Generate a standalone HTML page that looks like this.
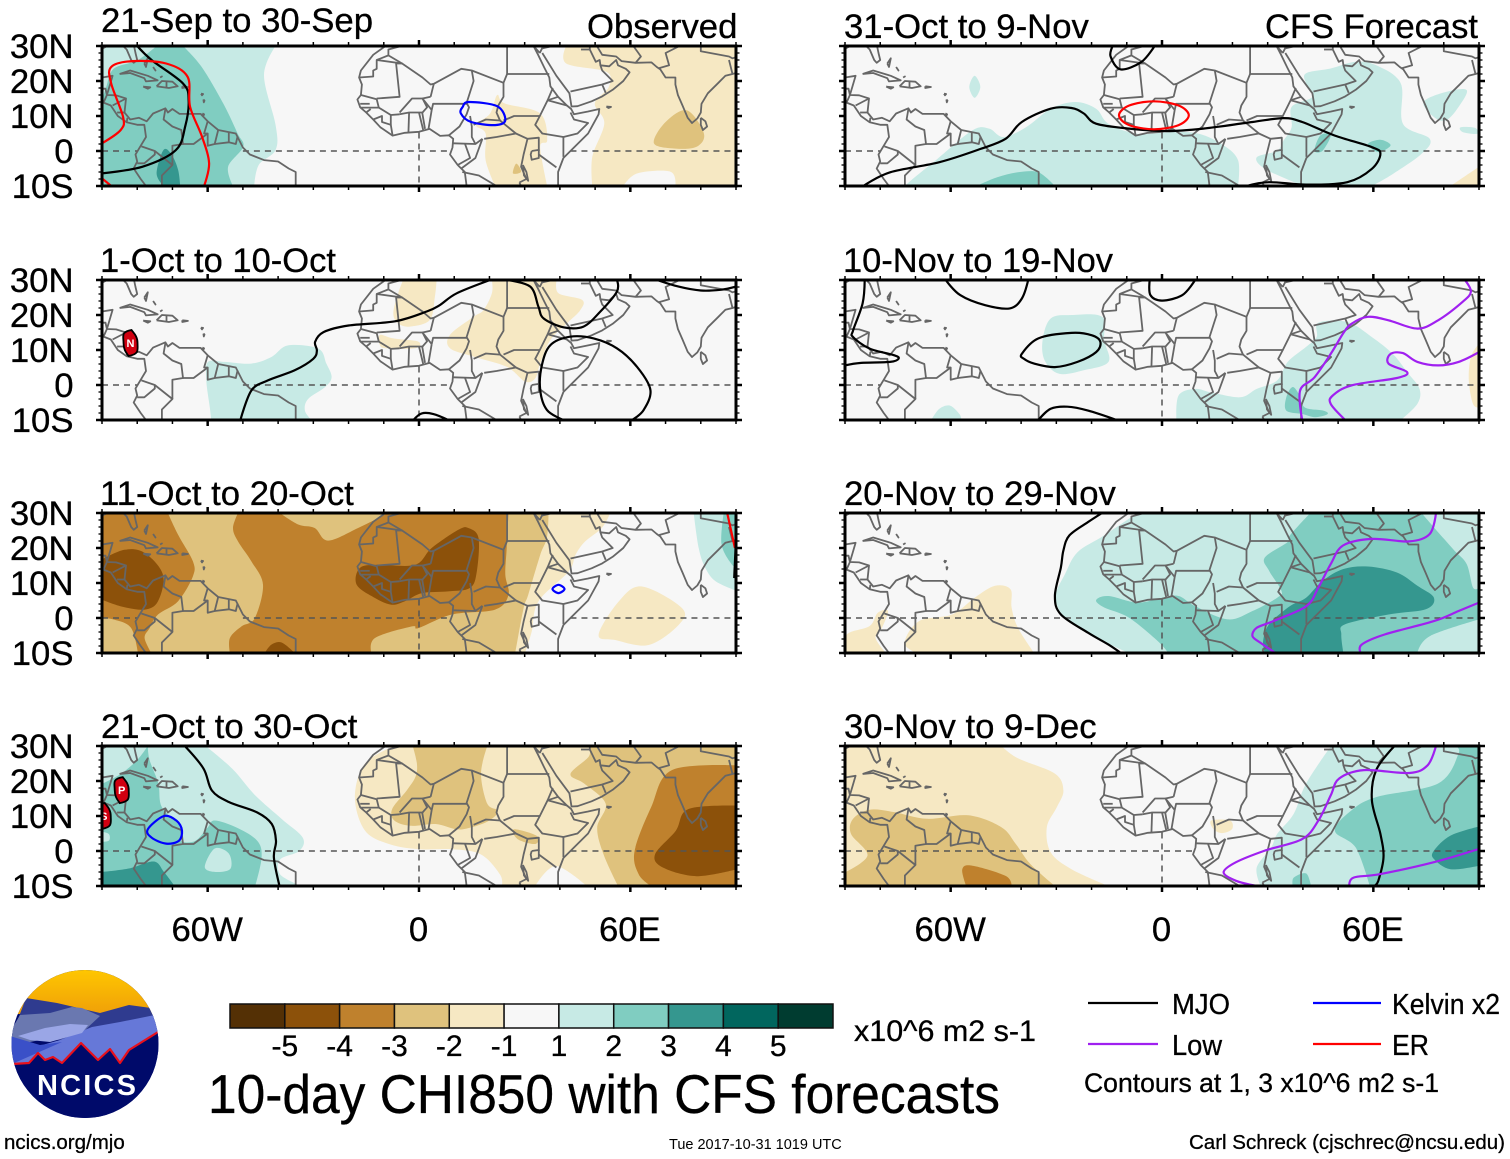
<!DOCTYPE html>
<html lang="en">
<head>
<meta charset="utf-8">
<title>10-day CHI850 with CFS forecasts</title>
<style>
html,body{margin:0;padding:0;background:#fff;width:1510px;height:1159px;overflow:hidden}
svg{display:block}
text{font-family:"Liberation Sans",sans-serif;fill:#000;stroke:#000;stroke-width:.3}
</style>
</head>
<body>
<svg id="chart" xmlns="http://www.w3.org/2000/svg" width="1510" height="1159" viewBox="0 0 1510 1159">
<defs>
<linearGradient id="sky" x1="0" y1="0" x2="0" y2="1"><stop offset="0" stop-color="#ffc800"/><stop offset="1" stop-color="#f0a008"/></linearGradient>
<clipPath id="logo-clip"><ellipse cx="85" cy="1044" rx="73.5" ry="74"/></clipPath>
</defs>
<rect width="1510" height="1159" fill="#fff"/>
<g id="panels"></g>

<text x="101" y="32" font-size="34.7" textLength="272" lengthAdjust="spacingAndGlyphs">21-Sep to 30-Sep</text>
<text x="587" y="38" font-size="34.7">Observed</text>
<text x="100" y="272" font-size="34.7" textLength="236" lengthAdjust="spacingAndGlyphs">1-Oct to 10-Oct</text>
<text x="100" y="505" font-size="34.7">11-Oct to 20-Oct</text>
<text x="101" y="738" font-size="34.7">21-Oct to 30-Oct</text>
<text x="844" y="38" font-size="34.7">31-Oct to 9-Nov</text>
<text x="1265" y="38" font-size="34.7" textLength="213" lengthAdjust="spacingAndGlyphs">CFS Forecast</text>
<text x="843" y="272" font-size="34.7" textLength="270" lengthAdjust="spacingAndGlyphs">10-Nov to 19-Nov</text>
<text x="844" y="505" font-size="34.7">20-Nov to 29-Nov</text>
<text x="844" y="738" font-size="34.7">30-Nov to 9-Dec</text>

<g id="colorbar"></g>
<text x="854" y="1041" font-size="30" textLength="182" lengthAdjust="spacingAndGlyphs">x10^6 m2 s-1</text>
<text x="208" y="1113" font-size="55" textLength="792" lengthAdjust="spacingAndGlyphs">10-day CHI850 with CFS forecasts</text>

<g>
<line x1="1088" y1="1003" x2="1158" y2="1003" stroke="#000" stroke-width="2.2"/>
<text x="1172" y="1014" font-size="29" textLength="58" lengthAdjust="spacingAndGlyphs">MJO</text>
<line x1="1313" y1="1003" x2="1381" y2="1003" stroke="#0000ff" stroke-width="2.2"/>
<text x="1392" y="1014" font-size="29" textLength="108" lengthAdjust="spacingAndGlyphs">Kelvin x2</text>
<line x1="1088" y1="1044" x2="1158" y2="1044" stroke="#a020f0" stroke-width="2.2"/>
<text x="1172" y="1055" font-size="29" textLength="50" lengthAdjust="spacingAndGlyphs">Low</text>
<line x1="1313" y1="1044" x2="1381" y2="1044" stroke="#ff0000" stroke-width="2.2"/>
<text x="1392" y="1055" font-size="29" textLength="37" lengthAdjust="spacingAndGlyphs">ER</text>
<text x="1084" y="1092" font-size="27" textLength="355" lengthAdjust="spacingAndGlyphs">Contours at 1, 3 x10^6 m2 s-1</text>
</g>

<text x="4" y="1149" font-size="20.5">ncics.org/mjo</text>
<text x="669" y="1149" font-size="14.5" style="stroke:none">Tue 2017-10-31 1019 UTC</text>
<text x="1189" y="1149" font-size="20.5" textLength="316" lengthAdjust="spacingAndGlyphs">Carl Schreck (cjschrec@ncsu.edu)</text>

<g clip-path="url(#logo-clip)">
<rect x="10" y="968" width="150" height="152" fill="#000a6a"/>
<rect x="10" y="968" width="150" height="46" fill="url(#sky)"/>
<polygon points="10,1040 26,998 57,1003 100,1013 129,1005 151,1008 160,1040" fill="#2f3b8f"/>
<polygon points="10,1032 20,1015 50,1013 72,1007 82,1008 100,1016 85,1030 40,1040 10,1046" fill="#6a78b0"/>
<polygon points="10,1068 25,1050 60,1040 92,1027 120,1022 160,1014 160,1072 10,1072" fill="#6678d8"/>
<polygon points="18,1036 45,1028 70,1024 88,1025 82,1033 50,1042 30,1040" fill="#9aa6e6"/>
<polygon points="10,1036 40,1045 62,1042 12,1064" fill="#3a50c8"/>
<polygon points="10,1064 29,1063 38,1053 45,1060 53,1057 62,1063 81,1043 98,1060 110,1049 120,1063 129,1050 160,1031 160,1120 10,1120" fill="#000a6a"/>
<polyline points="12,1064 29,1063 38,1053 45,1060 53,1057 62,1063 81,1043 98,1060 110,1049 120,1063 129,1050 158,1032" fill="none" stroke="#e8101c" stroke-width="2.2" stroke-linejoin="round"/>
</g>
<text x="37" y="1095" font-size="29" font-weight="bold" style="fill:#fff;stroke:none" textLength="99" lengthAdjust="spacing">NCICS</text>
</svg>

<script>
// ---- Axis tick data ----
const yTickLats = [30, 20, 10, 0, -10];
const yTickLabels = ['30N', '20N', '10N', '0', '10S'];
const xTickLons = [-60, 0, 60];
const xTickLabels = ['60W', '0', '60E'];

// ---- Colour bar data ----
const barLevels = [-5.5, -4.5, -3.5, -2.5, -1.5, 0, 1.5, 2.5, 3.5, 4.5, 5.5];
const barLabels = ['-5', '-4', '-3', '-2', '-1', '1', '2', '3', '4', '5'];

// ---- Simplified geography (lon, lat) ----
const mapLines = [
 [[-90,29.2],[-88,30.3],[-84,30],[-83,29],[-81.7,26],[-81,25.2],[-80,26],[-80.5,28],[-81,30.5]],
 [[-90,21],[-87,21.5],[-88,18],[-88.6,16],[-86,15.9],[-83.2,15],[-83.6,11],[-82,9],[-79.5,9.5],[-77.3,8.5],[-75.5,10.7],[-72,12.2],[-71.3,11],[-70,12],[-68,10.6],[-62,10.6],[-60,8.5],[-57,6],[-52,5],[-50,1],[-48,-1],[-44,-2.6],[-40,-3],[-37,-5],[-35,-6],[-35,-10]],
 [[-90,14],[-87.5,13],[-85.5,10],[-83,8.2],[-80,7.5],[-78,7.5],[-77.5,4],[-79,1.5],[-80.5,-1],[-80,-3],[-81,-5],[-79,-8],[-77.5,-10]],
 [[-72,12],[-72.5,9],[-70,7],[-67.5,6],[-67,2],[-70,1.5],[-70,-4]],
 [[-60,8.5],[-61,5],[-60,5],[-60,1.5],[-58,2],[-57,6]],
 [[-67,2],[-64,2],[-60,5]],[[-54,5.5],[-54,2.5],[-58,2]],[[-54,2.5],[-52,2],[-51.5,4.2]],
 [[-78.8,1.3],[-75,0],[-70,-4],[-73,-7],[-73,-10]],[[-80,-3.5],[-78,-3.5],[-75,-1],[-75,0]],
 [[-90,17.8],[-89,17.8],[-88.6,16]],[[-89.5,14],[-88.6,16]],[[-83.2,15],[-87,13]],[[-83.6,11],[-85.7,11]],[[-83,8.2],[-82.8,9.5]],
 [[-85,22],[-82,23],[-77,21.5],[-74.2,20.2],[-77.5,19.9],[-78,20.8],[-82,22.3],[-85,22]],
 [[-74.5,18.5],[-73,20],[-70,19.8],[-68.5,18.5],[-71,18],[-74.5,18.5]],[[-71.7,18],[-71.7,19.8]],
 [[-78.3,18.4],[-76.3,18.2],[-77,17.8],[-78.3,18.4]],[[-67.2,18.5],[-65.6,18.3],[-67.2,18],[-67.2,18.5]],
 [[-78,25],[-77,26.5],[-77.5,24],[-78,25]],[[-75.5,24],[-74.8,23],[-75.5,24]],[[-73.5,21],[-73,21.3],[-73.5,21]],
 [[-61.9,16.4],[-61.3,16.3],[-61.6,15.9],[-61.9,16.4]],[[-61.2,14.7],[-60.9,14.4],[-61.1,13.9],[-61.2,14.7]],[[-61.5,10.7],[-61,10.5],[-61.2,10.1],[-61.5,10.7]],
 [[53.2,12.7],[54.5,12.6],[53.8,12.3],[53.2,12.7]],
 [[-9.5,30],[-13,27.5],[-16.5,23],[-17,21],[-16.2,19],[-16.5,16],[-17.5,14.7],[-16.7,12.5],[-15,11],[-13,9],[-11,6.8],[-7.5,4.4],[-4,5.2],[0,5.5],[3,6.3],[6,4.3],[8.5,4.5],[9.7,3.5],[9.5,1],[8.8,-1],[11,-4],[13,-6],[13.5,-10]],
 [[39.5,-10],[39.5,-6],[41,-2],[45,2],[48,5],[51,10.5],[51.2,12],[48,11.3],[44,10.5],[43.2,12],[42,13],[39.5,15.5],[37.3,18.5],[37,21],[35.5,24],[33.8,27.5],[32.5,30]],
 [[34.3,28],[35,29.5]],[[34.3,28],[33,29.5]],
 [[35,28],[39,21.5],[42.7,16.5],[43.3,12.7],[45,12.8],[49,14.2],[52,15.6],[55,17.5],[58,20],[59.8,22.5],[58.7,23.5],[56.5,24.5],[56,26],[54,24.2],[51.5,24.5],[51.3,26],[50.2,25.5],[48.5,29],[48.5,30]],
 [[48.5,30],[50.5,30],[52,27.5],[56,27],[57.5,25.7],[61.5,25.2],[66,25.3],[67.5,24],[68.5,23.3],[70,21],[72,21],[72.8,21],[72.8,19],[73.5,16],[74.8,13],[76.3,9.5],[77.5,8],[79,9.3],[80,11],[80.2,13.5],[82,16.5],[85,19.5],[87,21.5],[89,22],[90,22.3]],
 [[80,9.5],[81.3,8.5],[81.8,7],[80.6,6],[80,7.5],[80,9.5]],
 [[32,0],[34,0.3],[34,-2],[32,-2.5],[31.7,-1],[32,0]],[[29.5,-4],[29.8,-7],[31,-8.5],[30.5,-6],[29.5,-4]],[[28.5,-9],[29,-10]],
 [[-17,21],[-13,21.3],[-13,23],[-12,23.5],[-12,26],[-8.7,27.3],[-8.7,29],[-5,30]],
 [[-12,26],[-4.8,25],[-6.5,25],[-5.5,15.5],[-12,15]],[[-8.7,27.3],[-4.8,25],[1,21],[3.3,19],[4.2,19.2],[12,23.5],[15,23],[24,19.5]],
 [[25,30],[25,22],[37,22]],[[25,22],[24,19.5],[24,15.5],[22.5,13],[22,11],[23,8.7]],
 [[15,23],[15.5,20],[13.5,13.7],[14.2,12.5],[13.5,10.5],[11.5,7],[8.5,4.5]],[[3.6,11.7],[4,13.5],[13.5,13.5]],[[3.3,15.5],[4.2,19.2]],[[3.3,15.5],[1,15],[3.6,11.7]],
 [[-5.5,10.5],[-2.8,11],[1,11],[2.3,12.5],[1,15],[-2,15],[-5.5,11]],
 [[-16.5,16],[-12,14.8],[-11.4,12.4],[-16.7,12.4]],[[-16.7,13.5],[-14,13.5]],[[-13.7,12],[-15,11]],[[-11.4,12.4],[-8,10.3],[-5.5,10.5]],
 [[-13,9],[-10.5,10],[-10.5,8.3],[-8,7.5],[-7.5,4.4]],[[-8,7.5],[-8,10.3]],[[-3,5],[-2.8,11]],[[1.2,6],[0,11]],[[2.7,6.3],[3.6,11.7]],[[1.7,6.3],[0.9,11]],
 [[14.5,10],[15,7],[15,4],[16,2]],[[15.5,7.5],[19,9],[23,8.7],[27.5,5]],[[18.5,3.5],[22,4],[27.5,5],[30.8,3.5],[29.7,-1],[29,-4.5],[30.5,-8],[28.5,-9]],
 [[9.8,2.2],[16,2],[18,3.5]],[[13,2.2],[14.5,-2],[11,-4]],[[18,3.5],[16,-2],[12,-5]],[[12.3,-6],[17,-7],[22,-10]],
 [[24,8.7],[27,10],[33,10],[34.3,10],[33,7.5],[35,5],[41,4],[45,5],[48,8],[44,9],[43,11]],[[30.8,3.5],[34,3.8],[34,0]],[[41,4],[41,-1.7]],[[34,-1],[39,-4.7]],
 [[34.3,10],[36.5,14.5],[39.5,15.5]],[[36.5,14.5],[38,18]],[[36.5,14.5],[42,13]],
 [[43,17],[52,19],[55,20],[52,23],[51.5,24.5]],[[52,19],[53,16.6]],[[35,29.3],[38,30]],[[46,29],[48.5,29]],
 [[61.5,25.2],[63,27],[61,29.8]],[[68.2,23.7],[71,24.5],[70,28],[74,30]],[[61,30],[66.5,30]],[[80,30],[80,28.5],[88,27],[89,26.5],[90,26.8]],[[88,26],[89,22]]
];
const equatorSegmentsMasked = [[-90,-79.8],[-50,9.3],[43,90]];
const equatorSegmentsFull = [[-90,9.3],[43,90]];
const meridianSpan = [5.3, -10];

// ---- Panel 1: 21-Sep to 30-Sep ----
const fills1 = [
 [1,[[-90,30],[-40.7,30],[-44,21.6],[-40.7,7.4],[-40.7,0.3],[-45.5,-4],[-46.8,-10],[-90,-10]]],
 [2,[[-74.5,30],[-67,30],[-61.7,24],[-55.6,13.6],[-51.5,5],[-49.9,1.2],[-54.2,-4.5],[-52.8,-10],[-90,-10],[-90,14.5],[-88.8,18.3],[-86.7,23.5],[-80,25.9]]],
 [3,[[-72.5,0.3],[-74.5,-6.4],[-72.5,-10],[-67.8,-10],[-68.4,-5.4],[-70.2,-1.1]]],
 [-1,[[41.8,30],[41.8,25],[53.2,22.6],[53.9,18.3],[49.9,13.6],[52.6,7.9],[49.2,-1.6],[49.2,-10],[58,-10],[62,-6.4],[71.4,-5.9],[72.8,-10],[90,-10],[90,30]]],
 [-2,[[66.7,2.2],[70,8.3],[76.1,11.6],[80.9,5],[78.8,1.2],[72.8,0.7]]],
 [-1,[[22.2,16],[24.3,13.6],[34.4,10.7],[36.4,3.1],[34.4,1.2],[36.4,-10],[21.6,-10],[18.9,-2.6],[18.9,5],[16.2,7.4],[20.2,10.7]]],
 [-2,[[27.6,-3.6],[29,-5.9],[26.7,-6.4]]]
];
const lines1 = [
 ['mjo',0,[[-80,30],[-75.8,25.9],[-67,19.3],[-65.4,14.5],[-66.4,6.9],[-69.1,0.2],[-78.6,-4.5],[-90,-6.4]]],
 ['er',0,[[-90,2.2],[-84.7,6],[-84,9.7],[-87.4,19.3],[-87.4,24],[-81.3,25.7],[-71.8,25],[-65.7,21.2],[-65,12.6],[-61.6,4.1],[-59.6,-3.5],[-61,-10]]],
 ['er',0,[[-90,-7.8],[-87.4,-10]]],
 ['kelvin',1,[[14.2,14],[22.2,12.8],[24.5,8.8],[21.6,7.4],[14.8,8.3],[11.9,10.7],[12.4,12.6]]]
];
const storms1 = [];

// ---- Panel 2: 1-Oct to 10-Oct ----
const fills2 = [
 [1,[[-59.9,6.6],[-55.2,6.6],[-47.6,6.1],[-41.9,8],[-37.2,11.3],[-28.6,10.4],[-26.3,6.1],[-24.8,2.2],[-26.7,-0.6],[-31.5,-4],[-32.4,-7.3],[-30.5,-10],[-59,-10],[-59.4,-6.4],[-60.4,1.3]]],
 [-1,[[-4.5,30],[5,30],[4.5,25.2],[3.1,18.6],[-2.6,16.7],[-5.9,17.6],[-7.3,20.5],[-5.9,26.2]]],
 [-1,[[-11.1,14.3],[-7.3,13.3],[-0.2,12.4],[-1.1,10.5],[-9.2,10.5],[-11.1,11.4]]],
 [-1,[[20.7,30],[39.1,30],[39.6,26.2],[46.3,24.3],[45.8,21.4],[42,17.6],[37.3,12.9],[34.4,6.2],[33,1.9],[30.1,1],[24.9,5.2],[15.5,8.1],[8.8,10.5],[8.8,14.3],[15.5,19.5],[18.3,21.4],[20.7,26.2]]]
];
const lines2 = [
 ['mjo',0,[[-50.7,-10],[-47.6,-1.6],[-42.9,1.3],[-35.3,4.2],[-30,7.5],[-29,9.9],[-29.5,12.3],[-27.1,15.1],[-20,17],[-6.8,18.2],[2.2,21],[6,22.9],[10.7,26.2],[20.2,30],[24.9,30],[31.6,28.1],[33.9,22.4],[35.4,19],[41,16.5],[46.7,16.7],[51.5,21],[56.2,26.7],[56.2,30]]],
 ['mjo',0,[[67.6,30],[73.7,28.1],[80,27],[85.6,27.2],[90,28.1]]],
 ['mjo',0,[[60.5,-10],[63.8,-7.1],[65.7,-1.4],[61.9,5.2],[56.2,10.5],[49.6,13.3],[42.9,13.8],[37.3,11.4],[34.9,5.7],[34.4,-1.4],[36.3,-7.1],[41,-10]]],
 ['mjo',0,[[-1.6,-10],[0.8,-8.1],[4.1,-8.3],[8.3,-10]]]
];
const storms2 = [[-81.9,12,'N']];

// ---- Panel 3: 11-Oct to 20-Oct ----
const fills3 = [
 [-1,[[-90,30],[54.3,30],[51.9,25.7],[47.2,21.9],[44.4,18],[42.5,13.3],[33.9,4.7],[32,-3.9],[30.1,-10],[-90,-10]]],
 [-2,[[-90,30],[36.8,30],[36.3,22.9],[34.4,18],[31,6.6],[29.7,2.8],[27.3,-10],[-90,-10]]],
 [-3,[[-51.4,30],[-39.5,30],[-34.3,26.7],[-29.6,25.7],[-25.8,22.1],[-17.3,25.7],[-8.7,30],[25.4,30],[24.9,20],[24.5,12.4],[25.4,6.6],[21.6,2.4],[9.3,1],[-0.2,-2.9],[-2,-2.4],[-12.5,-5.7],[-13.5,-10],[-53.7,-10],[-53.7,-5.7],[-50.4,-2.4],[-46.6,0],[-44.3,9.5],[-47.6,16.2],[-51.4,21.9],[-52.8,25.7]]],
 [-3,[[-90,30],[-71.3,30],[-68.4,23.8],[-64.2,16.2],[-64.2,11.9],[-68.4,4.8],[-74.1,1],[-76.5,-2.9],[-77.9,-5.7],[-76,-10],[-79.8,-10],[-81.7,-2.9],[-86.4,-0.5],[-90,0]]],
 [-4,[[-90,16.7],[-83.6,19.5],[-77.9,18.6],[-72.7,12.4],[-74.1,4.8],[-77.9,2.4],[-84.5,3.3],[-90,5.2]]],
 [-4,[[-17.7,9.5],[-16.8,14.3],[-11.6,15.2],[-1.1,15.2],[3.6,20],[11.2,25.2],[14,25.7],[16.9,22.9],[16.4,13.3],[14.5,8.6],[8.3,7.6],[0.8,7.1],[-4,4.8],[-7.8,3.8],[-12.5,5.7]]],
 [-4,[[-43.8,-10],[-41.9,-7.6],[-39,-7],[-35.3,-10]]],
 [-1,[[51,-4.8],[56.7,4.7],[63.3,9],[74.7,2.8],[73.7,-2],[65.2,-7.7],[55.7,-6.3]]],
 [1,[[78,30],[79.4,20],[81.3,14.3],[84.2,10.5],[90,7.8],[90,30]]],
 [2,[[86.5,30],[85.9,21],[88.9,15.2],[90,15.2],[90,30]]]
];
const lines3 = [
 ['kelvin',1,[[37.9,8.3],[39.6,9.5],[41.3,8.3],[39.6,7.1]]],
 ['er',0,[[87.5,30],[89.7,20]]],
 ['mjo',0,[[90,22.9],[89.5,11.4]]]
];
const storms3 = [];

// ---- Panel 4: 21-Oct to 30-Oct ----
const fills4 = [
 [1,[[-90,30],[-60.6,30],[-53,23.5],[-46.5,15.9],[-38.8,9],[-33,3.8],[-34,0],[-39.4,-2.4],[-39.4,-6.7],[-33.5,-10],[-90,-10]]],
 [2,[[-77,30],[-76.5,26],[-74,19.2],[-73,12.5],[-67.6,6.7],[-67.6,2.9],[-63.5,2.9],[-60,6.7],[-58,8.7],[-51.8,6.7],[-45.9,2.9],[-44.7,-1.9],[-46.5,-10],[-90,-10],[-90,19.2],[-84.7,22],[-80,26]]],
 [1,[[-58,0.7],[-54,-0.7],[-53.5,-5],[-57.5,-6],[-60.8,-4.6]]],
 [1,[[-90,5.5],[-88,4.8],[-88,3],[-90,2.6]]],
 [3,[[-90,-6],[-82.4,-5],[-75.3,-3],[-72.4,-6],[-69.4,-10],[-90,-10]]],
 [-1,[[-7,30],[-15.3,25],[-18.2,15.4],[-15.3,5.8],[-8.2,1.9],[0,0.5],[9.4,0.5],[17.6,-1],[23,-6.7],[23.5,-10],[33,-10],[38.8,-4.3],[47.6,-10],[90,-10],[90,30]]],
 [-2,[[-1.8,30],[-0.6,25],[-1,21.2],[-3.5,17.3],[-7.6,12],[-7,8.7],[-2.4,7.2],[4.7,7.7],[10.6,6.2],[14.7,6.7],[20,8.7],[22.4,11.5],[19.4,13.5],[17.6,22.1],[19.4,30]]],
 [-2,[[27,6.2],[33.5,4.3],[33,2],[28,3.4]]],
 [-2,[[48.2,30],[48.2,27],[43,22],[47,19.2],[53,13.5],[50.6,6.7],[52.4,-1],[56.5,-10],[90,-10],[90,30]]],
 [-3,[[71.8,23.1],[65.9,12.5],[61.2,0],[62.4,-6.7],[65.9,-10],[90,-10],[90,24.5]]],
 [-4,[[76.5,12],[90,13],[90,-5.3],[78.8,-7.2],[69.4,-4.8],[67,-1],[72.9,5.8]]]
];
const lines4 = [
 ['mjo',0,[[-66.5,30],[-61.2,23.6],[-58.8,17.3],[-54,14],[-45.9,11],[-41.8,7.7],[-40.6,2.9],[-41.2,-1.9],[-39.6,-10]]],
 ['kelvin',1,[[-77,6.2],[-72.4,10],[-68.8,8.6],[-67.3,5.8],[-68.2,2.9],[-71.8,2.1],[-75.9,3.8]]]
];
const storms4 = [[-84.4,17.4,'P'],[-89.5,10,'S']];

// ---- Panel 5: 31-Oct to 9-Nov ----
const fills5 = [
 [1,[[-73,-10],[-70.2,-7.5],[-63.7,-2.2],[-53.8,5.9],[-49.1,6.4],[-45,4],[-38.6,6.8],[-31.6,12.1],[-24.6,14],[-18.7,12.1],[-15.2,7.8],[-7,4.9],[2.3,5.4],[10.5,4.9],[17.5,1.6],[21.6,-2.7],[21.6,-10]]],
 [1,[[40.9,22.2],[40.9,19.3],[42.7,15.5],[36.8,12.6],[36.8,6.8],[34.5,3],[32.7,0.1],[26.9,-1.8],[29.2,-5.1],[38.6,-9.4],[39.8,-10],[59.6,-10],[65.5,-6.6],[73.7,-0.8],[76,3.5],[68.4,7.8],[67.8,19.3],[60.8,24.5],[55,25.5],[48,23.6]]],
 [1,[[74.3,14],[80.7,16.9],[86.5,17.4],[84.2,12.6],[80.7,8.8],[77.2,9.7]]],
 [1,[[84.8,6.8],[88.9,6.6],[89.5,4.9],[85.4,5.4]]],
 [1,[[-54.7,18.3],[-53.2,21.5],[-51.6,18.3],[-53.2,15.2]]],
 [2,[[-52.6,-10],[-46.8,-7.5],[-40.9,-6.1],[-35.1,-6.1],[-30.4,-10]]],
 [2,[[43.3,0.1],[45,4.5],[47.9,4.5],[45.6,0.1]]],
 [2,[[58.5,2],[62,3.2],[64.9,1.6],[61.4,-0.3]]],
 [-1,[[81.9,-10],[90,-4.5],[90,-10]]]
];
const lines5 = [
 ['mjo',0,[[-84.8,-10],[-77.2,-6.1],[-63.2,-3.2],[-51.5,0.6],[-44.4,3.5],[-39.8,8.3],[-31.6,12.1],[-25.7,12.3],[-22.2,10.7],[-18.7,7.8],[-9.4,6.4],[1.2,5.7],[11.7,6.4],[25.7,8.3],[34.5,9.4],[39.8,8.3],[49.1,4.4],[59.6,1.1],[62,-0.8],[59.6,-5.1],[52.6,-8.9],[40.9,-9.6],[30.4,-8.9],[24,-10]]],
 ['mjo',0,[[-14,30],[-14.6,27],[-11.7,23.3],[-5.8,25.5],[-2.1,30]]],
 ['er',1,[[-12.2,10.2],[-9.3,13],[-2.3,14.2],[4.7,13],[7.6,10.2],[4.7,7.4],[-2.3,6.2],[-9.3,7.4]]]
];
const storms5 = [];

// ---- Panel 6: 10-Nov to 19-Nov ----
const fills6 = [
 [1,[[-31.6,19],[-25.7,20],[-17,19.5],[-16.4,12.8],[-15.2,6.6],[-22.2,4.2],[-29.2,3.2],[-33.3,7],[-33.9,12.8]]],
 [1,[[44.4,17.8],[52.6,18],[59.6,13.7],[65.5,8.9],[69.6,3.7],[73.1,-1.1],[72.5,-5.4],[67.8,-10],[4.1,-10],[4.7,-3],[9.4,-1.1],[14,-2.1],[22.2,-3.5],[26.9,-1.1],[32.7,1.3],[35.7,6.6],[40.9,10.9],[43.9,13.7]]],
 [1,[[-65.5,-10],[-63.2,-6.8],[-60.2,-5.9],[-57.5,-8.3],[-57,-10]]],
 [2,[[37,-0.6],[38.8,-2.5],[40.5,-6.4],[45.8,-7.3],[47,-8.3],[43.5,-9.2],[40,-8.3],[35.3,-7.3],[35.3,-3.5]]],
 [-1,[[87.7,8],[90,11.8],[90,-6.4],[88.3,-5.4],[87.1,1.3]]]
];
const lines6 = [
 ['mjo',0,[[-61.4,30],[-57.3,25.7],[-50.2,22.8],[-43.2,21.9],[-39.8,24.7],[-38,30]]],
 ['mjo',0,[[-3.5,30],[-3.3,25.7],[0,24.1],[5.8,25.7],[9.4,30]]],
 ['mjo',1,[[-39.8,8.9],[-35.1,13.3],[-25.7,14.9],[-19.9,14.2],[-17.5,12.3],[-18.7,9.4],[-24,6.6],[-30.4,5.1],[-36.3,6.1],[-39.2,7.5]]],
 ['mjo',0,[[-84.4,30],[-85,23.3],[-87.7,15.6],[-87.7,13.7],[-83,10.4],[-76,8.5],[-74.8,7.5],[-77.2,6.6],[-85.4,6.3],[-90,5.6]]],
 ['mjo',0,[[-35.1,-10],[-31.6,-6.8],[-26.9,-6.2],[-21,-7.3],[-12.9,-10]]],
 ['low',0,[[39.8,-10],[39.2,-1.6],[43.3,2.2],[47.9,8.9],[51.4,14.7],[53.8,17.5],[58.5,19.5],[64.3,18.5],[72.5,16.1],[78.4,18.5],[85.4,23.8],[87.7,26.7],[86,30]]],
 ['low',0,[[52,-10],[47.9,-5.4],[48.5,-3],[53.8,-0.1],[66.7,2],[69.6,3.7],[64.3,6.1],[64.9,8.9],[68.4,9.1],[72.5,6.6],[78.4,5.6],[84.2,6.6],[90,9.4]]]
];
const storms6 = [];

// ---- Panel 7: 20-Nov to 29-Nov ----
const fills7 = [
 [-1,[[-89.5,-4.7],[-83,-2.3],[-80.7,1.5],[-77.8,2],[-79.5,-2.8],[-81.3,-5.7],[-78.4,-10],[-90,-10]]],
 [-1,[[-73.1,-7.1],[-69,-0.9],[-59.6,1],[-53.2,5.8],[-47.4,9.2],[-43,8.2],[-42.7,3],[-40.9,-2.8],[-36.3,-10],[-69.6,-10]]],
 [1,[[-7,30],[-16.4,23.6],[-24,18.8],[-27.5,12.6],[-30.2,6.3],[-28,0.6],[-21,-4.2],[-11.7,-9],[-8.2,-10],[90,-10],[90,30]]],
 [2,[[42.1,30],[36.3,23.6],[35.7,21.7],[29.2,17.3],[30.4,13.5],[33.9,7.8],[32.7,5.8],[25.7,2],[18.7,-0.4],[9.4,3.4],[4.7,6.3],[0,5.8],[-7,4.4],[-15.2,6.3],[-18.7,5.1],[-16.4,3],[-9.4,0.1],[-1.2,-6.6],[1.8,-10],[72.5,-10],[76,-5.2],[90,-0.4],[90,8.7],[88.3,8.7],[86.5,15.4],[83,19.3],[78.4,24.5],[73.7,30]]],
 [3,[[51.5,14],[58.5,14.7],[66.7,13],[72.5,9.2],[77.2,5.8],[74.9,2.5],[64.3,1],[52,-1.8],[50.9,-4.7],[51.5,-10],[29.2,-10],[28.7,-6.6],[30.4,-1.8],[36.3,3.4],[40.9,5.8],[45.6,10.6]]]
];
const lines7 = [
 ['mjo',0,[[-17,30],[-21,27.4],[-26.3,23.6],[-28,19.3],[-28.7,14.5],[-30.4,6.3],[-28.7,1],[-21,-4.2],[-15.2,-7.6],[-11.7,-10]]],
 ['low',0,[[32.2,-10],[28,-7.1],[25.7,-5.2],[26.9,-2.8],[31.6,-0.9],[41,3.4],[44.4,8.7],[47.9,15.4],[51.4,20.7],[59.6,22.6],[70.2,21.9],[76,24],[77.8,30]]],
 ['low',0,[[56.4,-10],[56.7,-7.6],[63.2,-4.7],[77.2,-0.9],[84.2,2],[90,4.4]]]
];
const storms7 = [];

// ---- Panel 8: 30-Nov to 9-Dec ----
const fills8 = [
 [-1,[[-90,30],[-45.6,30],[-40.9,26.5],[-30.4,22.1],[-28,17.3],[-29.8,12.6],[-32.7,6.8],[-31.6,-0.4],[-25.7,-5.2],[-15.2,-10],[-90,-10]]],
 [-2,[[-83,11.8],[-76,11.1],[-66.7,9.2],[-55,10.2],[-45.6,6.8],[-41.5,2],[-37.4,-3.7],[-30.4,-10],[-90,-10],[-90,-6.1],[-83.6,-1.3],[-88.3,4.9],[-87.7,9.2]]],
 [-3,[[-56.7,-5.2],[-53.8,-4.2],[-44.4,-7.1],[-42.7,-10],[-55.6,-10]]],
 [-1,[[14,8.7],[19.3,8.7],[19.9,6.3],[17,5.1],[14.6,6.3]]],
 [1,[[48,30],[40.9,19.3],[37.4,10.6],[32.7,4.9],[31,1],[26.9,-4.7],[28,-10],[90,-10],[90,30]]],
 [2,[[83,30],[84.2,27.9],[78.4,19.3],[60.8,15.4],[53.8,11.6],[49.1,5.8],[55,1],[59,-10],[90,-10],[90,30]]],
 [2,[[37.4,-7.6],[40.9,-6.4],[42.3,-10],[37.1,-10]]],
 [3,[[90,7],[81.9,4.4],[77.2,0.1],[77.2,-2.3],[81.9,-5.2],[90,-4.2]]]
];
const lines8 = [
 ['mjo',0,[[66,30],[60.8,23.1],[59.6,14.5],[62,4.9],[62.9,-1.8],[61.4,-8.5],[60.2,-10]]],
 ['low',0,[[26.9,-10],[21,-8.5],[17.5,-6.1],[21,-3.2],[29.2,0.1],[39.8,3.4],[44.4,8.7],[47.9,15.9],[50.3,20.7],[57.3,23.1],[70.2,22.3],[75.4,24.5],[77.8,30]]],
 ['low',0,[[53.2,-10],[54.4,-7.6],[62,-6.6],[77.2,-3.2],[90,0.6]]]
];
const storms8 = [];

// ---- Drawing ----
const SVGNS = 'http://www.w3.org/2000/svg';
const levelColors = {'-5.5':'#543005','-5':'#543005','-4.5':'#8c510a','-4':'#8c510a','-3.5':'#bf812d','-3':'#bf812d','-2.5':'#dfc27d','-2':'#dfc27d','-1.5':'#f6e8c3','-1':'#f6e8c3','0':'#f7f7f7','1.5':'#c7eae5','1':'#c7eae5','2.5':'#80cdc1','2':'#80cdc1','3.5':'#35978f','3':'#35978f','4.5':'#01665e','4':'#01665e','5.5':'#003c30','5':'#003c30'};
const lineColors = {mjo:'#000000', low:'#a020f0', kelvin:'#0000ff', er:'#ff0000'};
const PANEL_W = 634, PANEL_H = 140;

function el(tag, attrs, parent) {
  const node = document.createElementNS(SVGNS, tag);
  for (const k in attrs) node.setAttribute(k, attrs[k]);
  parent.appendChild(node);
  return node;
}
function makeX(left) { return lon => left + (lon + 90) * PANEL_W / 180; }
function makeY(top) { return lat => top + (30 - lat) * PANEL_H / 40; }
function onEdge(p) { return Math.abs(p[0]) >= 90 || p[1] >= 30 || p[1] <= -10; }

function smoothPath(pts, closed, X, Y) {
  const n = pts.length;
  const get = i => closed ? pts[(i + n) % n] : pts[Math.max(0, Math.min(n - 1, i))];
  const tan = i => {
    const p = get(i);
    if (onEdge(p)) return [0, 0];
    const a = get(i - 1), b = get(i + 1);
    return [(X(b[0]) - X(a[0])) / 6, (Y(b[1]) - Y(a[1])) / 6];
  };
  let d = 'M' + X(pts[0][0]).toFixed(1) + ' ' + Y(pts[0][1]).toFixed(1);
  const segs = closed ? n : n - 1;
  for (let i = 0; i < segs; i++) {
    const p = get(i), q = get(i + 1), t0 = tan(i), t1 = tan(i + 1);
    d += 'C' + (X(p[0]) + t0[0]).toFixed(1) + ' ' + (Y(p[1]) + t0[1]).toFixed(1) + ' ' +
         (X(q[0]) - t1[0]).toFixed(1) + ' ' + (Y(q[1]) - t1[1]).toFixed(1) + ' ' +
         X(q[0]).toFixed(1) + ' ' + Y(q[1]).toFixed(1);
  }
  return closed ? d + 'Z' : d;
}

function drawStorm(parent, X, Y, storm) {
  const cx = X(storm[0]), cy = Y(storm[1]);
  const g = el('g', {}, parent);
  
  
  const swirl = el('path', {d: `M${cx+1} ${cy-13}C${cx-10} ${cy-11} ${cx-7} ${cy-7} ${cx-7} ${cy}C${cx-7} ${cy+7} ${cx-4} ${cy+10} ${cx-2} ${cy+13}C${cx+9} ${cy+11} ${cx+7} ${cy+7} ${cx+7} ${cy}C${cx+7} ${cy-7} ${cx+3} ${cy-10} ${cx+1} ${cy-13}Z`, fill:'#d00010', stroke:'#000', 'stroke-width':1.8}, g);
  
  
  const label = el('text', {x:cx, y:cy+4, 'font-size':11, 'font-weight':'bold', 'text-anchor':'middle', style:'fill:#fff;stroke:none'}, g);
  
  
  label.textContent = storm[2];
}

function drawPanel(root, index, left, top, fills, lines, storms, equatorSegs, showYLabels, showXLabels) {
  const X = makeX(left), Y = makeY(top);
  const group = el('g', {}, root);
  
  

  const clip = el('clipPath', {id:'panel-clip-' + index}, group);
  el('rect', {x:left, y:top, width:PANEL_W, height:PANEL_H}, clip);

  const bg = el('rect', {x:left, y:top, width:PANEL_W, height:PANEL_H, fill:'#f7f7f7'}, group);
  
  

  const inner = el('g', {'clip-path':'url(#panel-clip-' + index + ')'}, group);
  
  

  fills.forEach(f => {
    const p = el('path', {d:smoothPath(f[1], true, X, Y), fill:levelColors[String(f[0])]}, inner);
    
    
  });

  equatorSegs.forEach(s => {
    const eq = el('line', {x1:X(s[0]), x2:X(s[1]), y1:Y(0), y2:Y(0), stroke:'#555', 'stroke-width':1.5, 'stroke-dasharray':'6 5'}, inner);
    
    
  });
  const mer = el('line', {x1:X(0), x2:X(0), y1:Y(meridianSpan[0]), y2:Y(meridianSpan[1]), stroke:'#555', 'stroke-width':1.5, 'stroke-dasharray':'6 5'}, inner);
  
  

  const map = el('g', {fill:'none', stroke:'#666', 'stroke-width':1.8, 'stroke-linejoin':'round'}, inner);
  
  
  mapLines.forEach(line => {
    const pl = el('polyline', {points:line.map(p => X(p[0]).toFixed(1) + ',' + Y(p[1]).toFixed(1)).join(' ')}, map);
    
    
  });

  lines.forEach(l => {
    const c = el('path', {d:smoothPath(l[2], !!l[1], X, Y), fill:'none', stroke:lineColors[l[0]], 'stroke-width':2.2, 'stroke-linejoin':'round'}, inner);
    
    
  });

  storms.forEach(s => drawStorm(inner, X, Y, s));

  const frame = el('rect', {x:left, y:top, width:PANEL_W, height:PANEL_H, fill:'none', stroke:'#000', 'stroke-width':3}, group);
  
  

  for (let lon = -90; lon <= 90; lon += 10) {
    const major = lon % 60 === 0;
    [[top, -1], [top + PANEL_H, 1]].forEach(e => {
      const t = el('line', {x1:X(lon), x2:X(lon), y1:e[0], y2:e[0] + e[1] * (major ? 6 : 4), stroke:'#000', 'stroke-width':major ? 2.5 : 1.5}, group);
      
      
    });
  }
  for (let lat = -10; lat <= 30; lat += 2) {
    const major = lat % 10 === 0;
    [[left, -1], [left + PANEL_W, 1]].forEach(e => {
      const t = el('line', {x1:e[0], x2:e[0] + e[1] * (major ? 6 : 3.5), y1:Y(lat), y2:Y(lat), stroke:'#000', 'stroke-width':major ? 2.5 : 1.3}, group);
      
      
    });
  }

  if (showYLabels) {
    yTickLats.forEach((lat, i) => {
      const t = el('text', {x:left - 28.5, y:Y(lat) + 12, 'font-size':34.7, 'text-anchor':'end'}, group);
      
      
      t.textContent = yTickLabels[i];
    });
  }
  if (showXLabels) {
    xTickLons.forEach((lon, i) => {
      const t = el('text', {x:X(lon) - 0.5, y:941, 'font-size':34.7, 'text-anchor':'middle'}, group);
      
      
      t.textContent = xTickLabels[i];
    });
  }
}

const panelRoot = document.getElementById('panels');
drawPanel(panelRoot, 0, 102, 46, fills1, lines1, storms1, equatorSegmentsMasked, true, false);
drawPanel(panelRoot, 1, 102, 280, fills2, lines2, storms2, equatorSegmentsMasked, true, false);
drawPanel(panelRoot, 2, 102, 513, fills3, lines3, storms3, equatorSegmentsMasked, true, false);
drawPanel(panelRoot, 3, 102, 746, fills4, lines4, storms4, equatorSegmentsMasked, true, true);
drawPanel(panelRoot, 4, 845, 46, fills5, lines5, storms5, equatorSegmentsMasked, false, false);
drawPanel(panelRoot, 5, 845, 280, fills6, lines6, storms6, equatorSegmentsMasked, false, false);
drawPanel(panelRoot, 6, 845, 513, fills7, lines7, storms7, equatorSegmentsFull, false, false);
drawPanel(panelRoot, 7, 845, 746, fills8, lines8, storms8, equatorSegmentsFull, false, true);

// Colour bar
const barRoot = document.getElementById('colorbar');
const barX0 = 230, barW = 603 / barLevels.length;
barLevels.forEach((lv, i) => {
  const box = el('rect', {x:barX0 + i * barW, y:1004, width:barW, height:24, fill:levelColors[String(lv)], stroke:'#111', 'stroke-width':1.5}, barRoot);
  
  
});
barLabels.forEach((lab, i) => {
  const t = el('text', {x:barX0 + (i + 1) * barW, y:1056, 'font-size':30, 'text-anchor':'middle'}, barRoot);
  
  
  t.textContent = lab;
});
</script>
</body>
</html>
